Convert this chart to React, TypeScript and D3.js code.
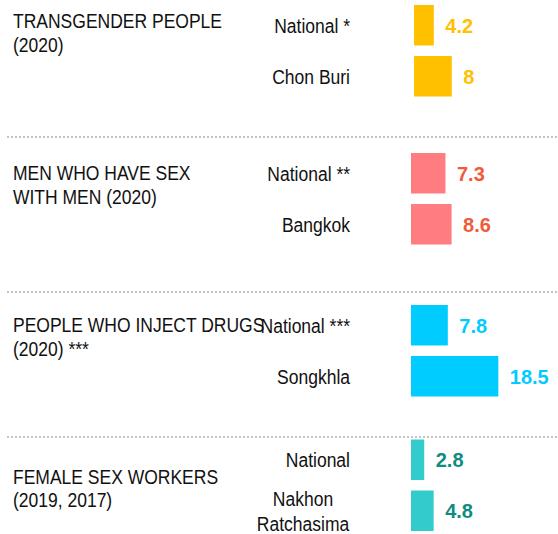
import React from "react";
import * as d3 from "d3";

const groupTitles: string[][] = [
  ["TRANSGENDER PEOPLE", "(2020)"],
  ["MEN WHO HAVE SEX", "WITH MEN (2020)"],
  ["PEOPLE WHO INJECT DRUGS", "(2020) ***"],
  ["FEMALE SEX WORKERS", "(2019, 2017)"],
];
const siteLabels: string[][][] = [
  [["National *"], ["Chon Buri"]],
  [["National **"], ["Bangkok"]],
  [["National ***"], ["Songkhla"]],
  [["National"], ["Nakhon", "Ratchasima"]],
];
const values: number[][] = [
  [4.2, 8],
  [7.3, 8.6],
  [7.8, 18.5],
  [2.8, 4.8],
];
const valueLabels: string[][] = [
  ["4.2", "8"],
  ["7.3", "8.6"],
  ["7.8", "18.5"],
  ["2.8", "4.8"],
];

const barColors = ["#FFC000", "#FF7C80", "#00CCFF", "#33CCCC"];
const textColors = ["#FFC000", "#EF5B3B", "#00CCFF", "#0E8C80"];

// layout
const W = 558;
const H = 534;
const groupTop = [5, 153, 305, 439.5];
const titleBaseline = [28, 180, 332, 484];
const titleLineHeight = [24, 24, 24, 23];
const separators = [137, 292, 437];
const barX0 = [414, 411, 411, 411];
const labelRight = 350;
const font = "'Liberation Sans', Arial, sans-serif";
const SX = 0.875;

function Condensed(props: { x: number; y: number; anchor: string; lines: string[]; lh: number; size: number }) {
  const { x, y, anchor, lines, lh, size } = props;
  return (
    <g transform={`translate(${x},${y}) scale(${SX},1)`}>
      <text fontFamily={font} fontSize={size} fill="#111" textAnchor={anchor}>
        {lines.map((l, i) => (
          <tspan key={i} x={0} y={i * lh}>
            {l}
          </tspan>
        ))}
      </text>
    </g>
  );
}

export default function App() {
  const x = d3.scaleLinear().domain([0, 20]).range([0, 94.4]);
  const band = d3.scaleBand<number>().domain([0, 1]).range([0, 91.5]).paddingInner(0.206).paddingOuter(0);
  const bw = band.bandwidth();

  return (
    <svg width={W} height={H} style={{ position: "absolute", left: 0, top: 0, background: "#fff" }}>
      {separators.map((y, i) => (
        <line key={i} x1={7} x2={W} y1={y} y2={y} stroke="#c4c4c4" strokeWidth={2} strokeDasharray="2 2" />
      ))}
      {groupTitles.map((lines, g) => (
        <g key={g}>
          <Condensed x={13} y={titleBaseline[g]} anchor="start" lines={lines} lh={titleLineHeight[g]} size={20} />
          {values[g].map((v, i) => {
            const y0 = groupTop[g] + (band(i) as number);
            const cy = y0 + bw / 2;
            const lab = siteLabels[g][i];
            const multi = lab.length > 1;
            return (
              <g key={i}>
                <rect x={barX0[g]} y={y0} width={x(v)} height={bw} fill={barColors[g]} />
                <Condensed
                  x={multi ? 303 : labelRight}
                  y={cy + 7.5 - ((lab.length - 1) / 2) * 25}
                  anchor={multi ? "middle" : "end"}
                  lines={lab}
                  lh={25}
                  size={20}
                />
                <text
                  x={barX0[g] + x(v) + 11.5}
                  y={cy + 7.5}
                  fontFamily={font}
                  fontWeight="bold"
                  fontSize={20}
                  fill={textColors[g]}
                >
                  {valueLabels[g][i]}
                </text>
              </g>
            );
          })}
        </g>
      ))}
    </svg>
  );
}
